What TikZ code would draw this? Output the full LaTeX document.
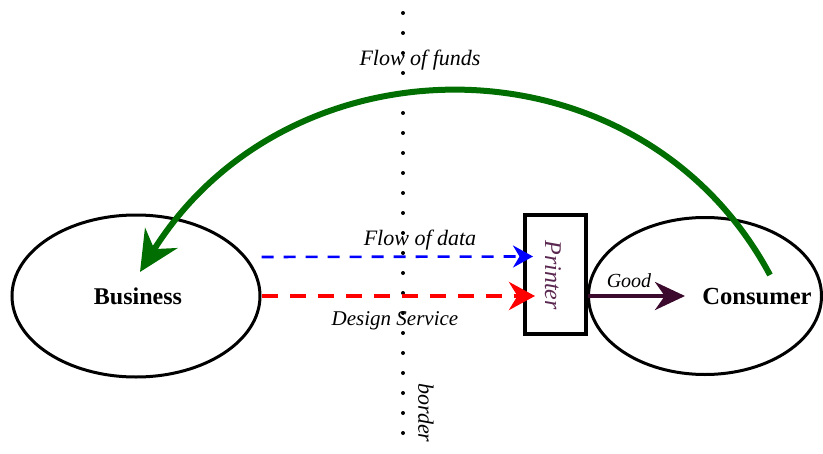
\documentclass[tikz,border=0pt]{standalone}
\usepackage{fontspec}
\setmainfont{Liberation Serif}
\usetikzlibrary{arrows.meta,shapes.geometric}
\definecolor{fundsgreen}{RGB}{0,110,0}
\definecolor{goodplum}{RGB}{60,10,45}
\definecolor{printerplum}{RGB}{90,40,80}
\tikzset{
  party/.style={draw,ellipse,line width=1.5pt,inner sep=0pt},
  flowlabel/.style={font=\fontsize{11}{13}\selectfont\itshape,inner sep=1pt},
}

\begin{document}
\begin{tikzpicture}[x=0.5pt,y=-0.5pt]
  \useasboundingbox (0,0) rectangle (823,454);
  % border line
  \coordinate (bordertop) at (403,13);
  \coordinate (borderbottom) at (403,450);
  \draw[line width=2pt,line cap=round,dash pattern=on 0pt off 10pt] (bordertop) -- (borderbottom);
  \node[flowlabel,rotate=-90] (border) at (426,413) {border};
  % parties
  \node[party,minimum width=124pt,minimum height=81pt] (business) at (136,296) {};
  \node[font=\fontsize{12}{14}\selectfont\bfseries] (businesstext) at (138,296) {Business};
  \node[party,minimum width=116.5pt,minimum height=78.5pt] (consumer) at (705,296) {};
  \node[font=\fontsize{12.3}{14}\selectfont\bfseries] (consumertext) at (757,297) {Consumer};
  \node[draw,line width=2pt,minimum width=30.5pt,minimum height=59.5pt,inner sep=0pt] (printer) at (555.5,274.5) {};
  \node[rotate=-90,text=printerplum,font=\fontsize{12}{14}\selectfont\itshape] (printertext) at (553,275) {Printer};
  % flows
  \draw[blue,line width=1.3pt,dash pattern=on 6pt off 5pt,-{Stealth[length=10pt,width=11pt]},shorten >=-5pt]
    ([yshift=19.5pt]business.east) -- ([yshift=9pt]printer.west);
  \node[flowlabel] (data) at (420,240) {Flow of data};
  \draw[red,line width=2.2pt,dash pattern=on 8pt off 6pt,-{Stealth[length=13pt,width=14pt]},shorten >=-6pt]
    (business.east) -- ([yshift=-10.75pt]printer.west);
  \node[flowlabel,font=\fontsize{10.5}{12}\selectfont\itshape] (design) at (395,321) {Design Service};
  \coordinate (goodend) at (685,296);
  \draw[goodplum,line width=2pt,-{Stealth[length=15pt,width=14pt]}] ([yshift=-10.75pt]printer.east) -- (goodend);
  \node[flowlabel,font=\fontsize{10}{12}\selectfont\itshape] (good) at (629,281) {Good};
  % funds
  \coordinate (fundsstart) at (770,275);
  \draw[fundsgreen,line width=3pt,-{Stealth[length=20pt,width=19pt]}]
    (fundsstart) .. controls (640,32) and (290,32) .. ([xshift=2pt,yshift=12pt]business.center);
  \node[flowlabel] (funds) at (420,60) {Flow of funds};
\end{tikzpicture}
\end{document}
